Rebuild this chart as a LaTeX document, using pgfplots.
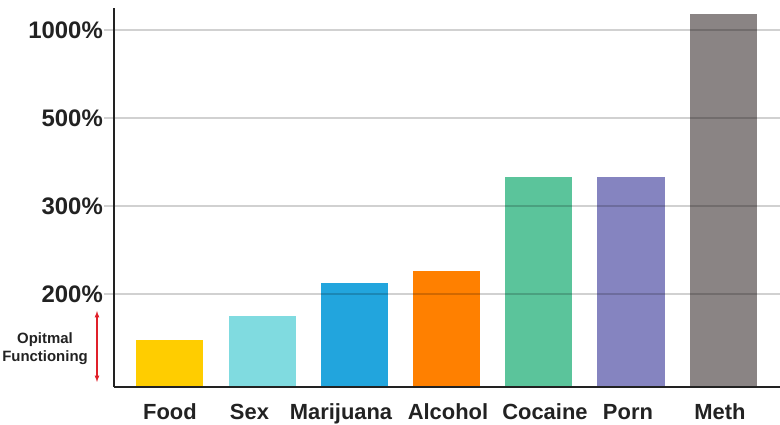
\documentclass[border=0pt]{standalone}
\usepackage{fontspec}
\setmainfont{Liberation Sans}
\usepackage{pgfplots}
\pgfplotsset{compat=1.18}
\definecolor{cFood}{HTML}{FFCD00}
\definecolor{cSex}{HTML}{80DBE0}
\definecolor{cMar}{HTML}{22A5DD}
\definecolor{cAlc}{HTML}{FF8000}
\definecolor{cCoc}{HTML}{5BC49B}
\definecolor{cPorn}{HTML}{8584C0}
\definecolor{cMeth}{HTML}{8A8484}
\definecolor{txt}{HTML}{222222}
\definecolor{arr}{HTML}{E0202A}
\begin{document}
\begin{tikzpicture}
\path[use as bounding box] (-114bp,-38bp) rectangle (666bp,387bp);
\begin{axis}[
  at={(0,0)}, anchor=south west,
  scale only axis, width=666bp, height=379bp,
  xmin=-0.607, xmax=6.616, ymin=0, ymax=379,
  axis x line*=bottom, axis y line*=left,
  axis on top,
  axis line style={line width=2.5bp, color=txt},
  xtick={0,0.862,1.855,3.015,4.067,4.967,5.965},
  xticklabels={Food,Sex,Marijuana,Alcohol,Cocaine,Porn,Meth},
  x tick style={draw=none},
  ytick={93,181,269,357},
  yticklabels={200\%,300\%,500\%,1000\%},
  ymajorgrids,
  grid style={black, opacity=0.18, line width=2bp},
  major tick length=10bp, tick align=outside,
  y tick style={black, opacity=0.18, line width=2bp},
  yticklabel style={font=\fontsize{24}{24}\selectfont\bfseries, text=txt, inner sep=1bp},
  xticklabel style={font=\fontsize{22}{22}\selectfont\bfseries, text=txt, inner sep=0pt, text height=16bp, text depth=2.5bp, yshift=-6bp},
]
\addplot[ybar, bar shift=0pt, bar width=0.727, draw=none, fill=cFood] coordinates {(0,47)};
\addplot[ybar, bar shift=0pt, bar width=0.727, draw=none, fill=cSex] coordinates {(1,71)};
\addplot[ybar, bar shift=0pt, bar width=0.727, draw=none, fill=cMar] coordinates {(2,104)};
\addplot[ybar, bar shift=0pt, bar width=0.727, draw=none, fill=cAlc] coordinates {(3,116)};
\addplot[ybar, bar shift=0pt, bar width=0.727, draw=none, fill=cCoc] coordinates {(4,210)};
\addplot[ybar, bar shift=0pt, bar width=0.727, draw=none, fill=cPorn] coordinates {(5,210)};
\addplot[ybar, bar shift=0pt, bar width=0.727, draw=none, fill=cMeth] coordinates {(6,373)};
\end{axis}
\draw[arr, line width=1.2bp, <->, >=latex] (-17bp,76bp) -- (-17bp,5bp);
\node[align=center, text=txt, font=\fontsize{15}{18}\selectfont\bfseries] at (-69bp,38bp) {Opitmal\\Functioning};
\end{tikzpicture}
\end{document}
